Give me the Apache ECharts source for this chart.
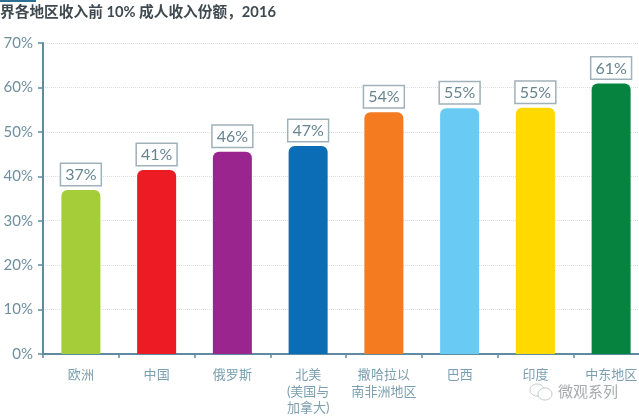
<!DOCTYPE html>
<html>
<head>
<meta charset="utf-8">
<style>
  html, body { margin: 0; padding: 0; background: #fff; overflow: hidden; }
  #chart { width: 639px; height: 420px; }
</style>
<script src="https://cdn.jsdelivr.net/npm/echarts@6/dist/echarts.min.js"></script>
</head>
<body>
<div id="chart"></div>
<script>
const categories = ['欧洲', '中国', '俄罗斯', '北美\n(美国与\n加拿大)', '撒哈拉以\n南非洲地区', '巴西', '印度', '中东地区']
const barValues = [36.9, 41.4, 45.5, 46.8, 54.4, 55.3, 55.4, 60.9]
const barLabels = ['37%', '41%', '46%', '47%', '54%', '55%', '55%', '61%']
const barColors = ['#a5cd39', '#ed1c24', '#9b258f', '#0a6db5', '#f47b20', '#69cbf4', '#ffd900', '#06843f']
const titleText = '界各地区收入前 10% 成人收入份额，2016'

const fontFamily = 'Lato, "Noto Sans CJK SC", sans-serif'
const axisColor = '#5f8ba0'

const chart = echarts.init(document.getElementById('chart'), null, { renderer: 'canvas' })

chart.setOption({
  backgroundColor: '#fff',
  animation: false,
  textStyle: { fontFamily },
  title: {
    text: titleText,
    left: 0,
    top: 5,
    padding: 0,
    textStyle: { color: '#3f4a50', fontSize: 14.7, fontWeight: 'bold', fontFamily }
  },
  // 右端超出畫布，最後一格被裁切
  grid: { left: 43, width: 606, top: 43, bottom: 66, containLabel: false, outerBoundsMode: 'none' },
  xAxis: {
    type: 'category',
    data: categories,
    axisLine: { lineStyle: { color: axisColor, width: 2 } },
    axisTick: { show: true, alignWithLabel: false, length: 4, lineStyle: { color: axisColor, width: 1.5 } },
    axisLabel: {
      color: '#7a9fb0',
      fontSize: 13,
      lineHeight: 16.5,
      margin: 13,
      interval: 0,
      hideOverlap: false,
      verticalAlign: 'top'
    }
  },
  yAxis: {
    type: 'value',
    min: 0,
    max: 70,
    interval: 10,
    axisLine: { show: true, lineStyle: { color: axisColor, width: 2 } },
    axisTick: { show: true, length: 5, lineStyle: { color: axisColor, width: 1.5 } },
    axisLabel: { color: '#6f8f9f', fontSize: 15, margin: 10, formatter: '{value}%' },
    splitLine: { show: true, lineStyle: { color: '#dcdfe1', type: 'dotted', width: 1 } }
  },
  series: [{
    type: 'bar',
    barWidth: 39,
    data: barValues.map((value, i) => ({
      value,
      itemStyle: { color: barColors[i], borderRadius: [6, 6, 0, 0] }
    })),
    label: {
      show: true,
      position: 'top',
      distance: 5,
      formatter: params => barLabels[params.dataIndex],
      color: '#668490',
      fontSize: 16,
      fontFamily,
      backgroundColor: '#fff',
      borderColor: '#9fb1b9',
      borderWidth: 1.5,
      padding: [3, 4, 2, 4]
    }
  }],
  graphic: [
    // 左上角被裁切的色條
    { type: 'rect', shape: { x: 0, y: 0, width: 36, height: 2 }, style: { fill: '#2f6f8f' } },
    // 浮水印
    { type: 'ellipse', shape: { cx: 537, cy: 390, rx: 7, ry: 6 }, style: { fill: '#fff', stroke: '#c4c8ca', lineWidth: 1 } },
    { type: 'ellipse', shape: { cx: 545, cy: 394, rx: 7, ry: 6 }, style: { fill: '#fff', stroke: '#c4c8ca', lineWidth: 1 } },
    {
      type: 'text',
      x: 558,
      y: 385,
      style: { text: '微观系列', fill: '#a6aaac', fontSize: 15, fontFamily }
    }
  ]
})
</script>
</body>
</html>
